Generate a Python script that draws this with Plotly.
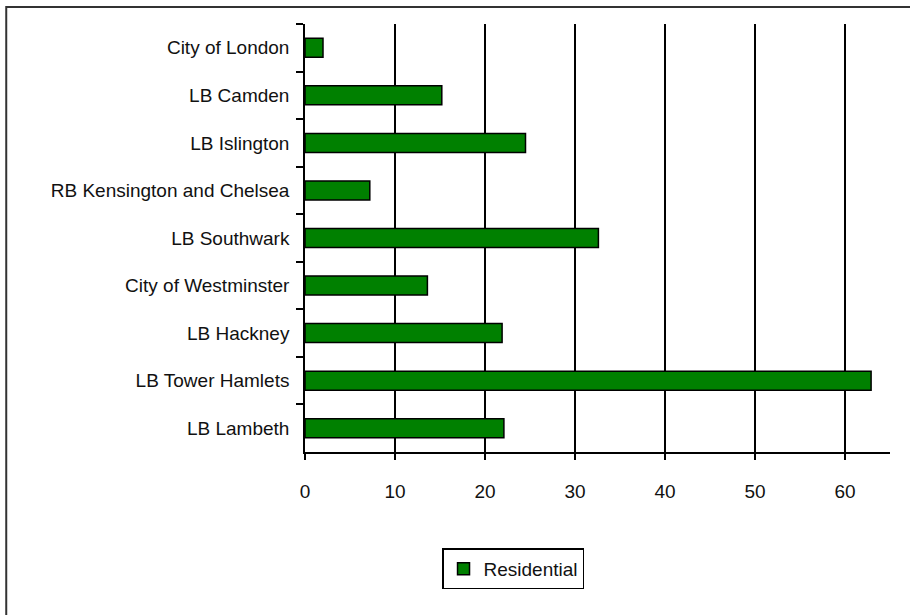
import plotly.graph_objects as go

# Boroughs, top to bottom as listed on the chart
boroughs = [
    "City of London",
    "LB Camden",
    "LB Islington",
    "RB Kensington and Chelsea",
    "LB Southwark",
    "City of Westminster",
    "LB Hackney",
    "LB Tower Hamlets",
    "LB Lambeth",
]
residential = [2.0, 15.2, 24.5, 7.2, 32.6, 13.6, 21.9, 62.9, 22.1]
x_ticks = [0, 10, 20, 30, 40, 50, 60]

FONT = "Liberation Sans, Arial, Helvetica, sans-serif"

fig = go.Figure()
fig.add_trace(go.Bar(
    y=boroughs,
    x=residential,
    orientation="h",
    name="Residential",
    width=0.4,
    marker=dict(color="#008000", line=dict(color="#000000", width=1.5)),
    showlegend=True,
))

fig.update_layout(
    width=910,
    height=615,
    margin=dict(l=305, r=20, t=24, b=163),
    paper_bgcolor="white",
    plot_bgcolor="white",
    font=dict(family=FONT, size=19, color="#111111"),
    showlegend=True,
    legend=dict(
        x=0.3556, xanchor="center",
        y=-0.225, yanchor="top",
        bordercolor="#000000", borderwidth=1.5,
        bgcolor="white",
        itemwidth=30,
        font=dict(family=FONT, size=19, color="#111111"),
    ),
    xaxis=dict(
        range=[0, 65],
        tickvals=x_ticks,
        ticks="outside",
        ticklen=6,
        tickwidth=1.5,
        tickcolor="#000000",
        showgrid=True,
        gridcolor="#000000",
        gridwidth=1.5,
        zeroline=False,
        showline=True,
        linecolor="#000000",
        linewidth=1.5,
        ticklabelstandoff=15,
    ),
    yaxis=dict(
        categoryorder="array",
        categoryarray=boroughs,
        autorange="reversed",
        ticks="outside",
        tickson="boundaries",
        ticklen=7,
        tickwidth=1.5,
        tickcolor="#000000",
        showline=True,
        linecolor="#000000",
        linewidth=1.5,
        showgrid=False,
        zeroline=False,
        ticklabelstandoff=10,
    ),
    shapes=[
        # outer chart frame (open to the right and bottom)
        dict(
            type="rect", xref="paper", yref="paper",
            x0=-0.5107, x1=1.2, y0=-0.5, y1=1.0397,
            line=dict(color="#333333", width=2),
            fillcolor="rgba(0,0,0,0)",
            layer="below",
        ),
    ],
)

fig.write_html("out.html")
